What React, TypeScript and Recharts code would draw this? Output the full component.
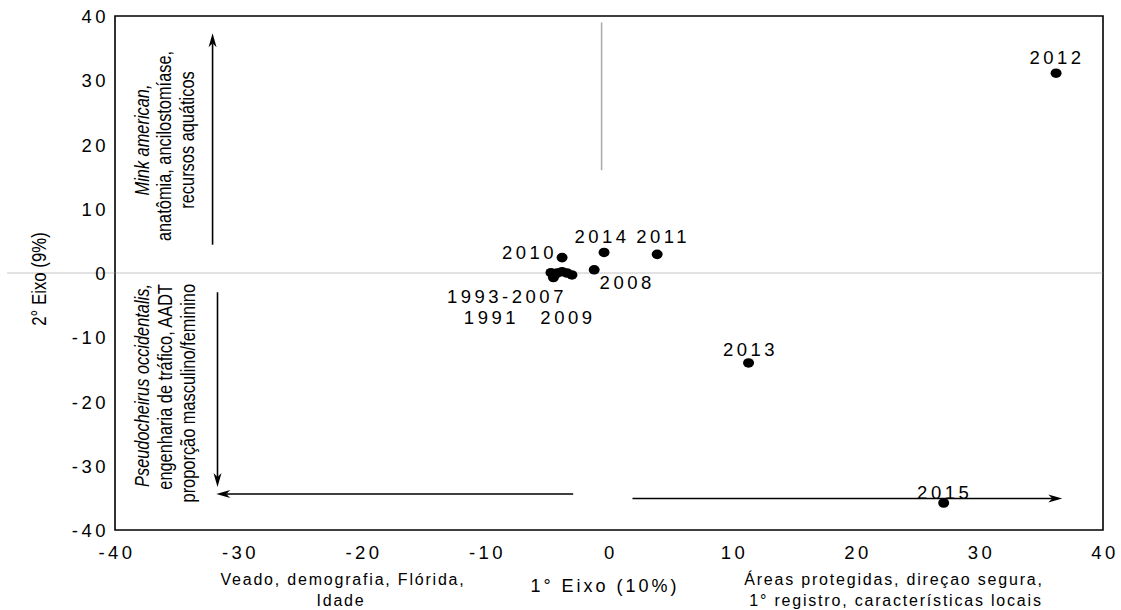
import React from 'react';
import { ScatterChart, Scatter, XAxis, YAxis, ReferenceLine, ReferenceArea } from 'recharts';

// scores on the two ordination axes, one entry per year (or year group)
const pointLabels = ['2012', '2013', '2015', '2011', '2014', '2010', '2008', '1993-2007', '1991', '', '', '', '2009'];
const axis1Scores = [36.2, 11.3, 27.1, 3.9, -0.4, -3.8, -1.2, -4.7, -4.5, -4.2, -3.8, -3.4, -3.0];
const axis2Scores = [31.1, -14.0, -35.8, 2.9, 3.2, 2.4, 0.5, 0.05, -0.7, 0.0, 0.2, 0.0, -0.3];

const xTicks = [-40, -30, -20, -10, 0, 10, 20, 30, 40];
const yTicks = [-40, -30, -20, -10, 0, 10, 20, 30, 40];

// direction arrows, in axis units
const arrowFrom = [[-32.1, 4.4], [-31.7, -3.0], [-2.9, -34.4], [1.9, -35.1]];
const arrowTo = [[-32.1, 37.3], [-31.7, -33.3], [-31.8, -34.4], [36.7, -35.1]];

const points = pointLabels.map((label, i) => ({ x: axis1Scores[i], y: axis2Scores[i], label }));

const NUM_FONT = '"Liberation Sans", Arial, sans-serif';

// label offset from its dot: dx, dy (baseline), anchor
const labelOffset: Record<string, [number, number, 'start' | 'middle' | 'end']> = {
  '2012': [1, -9, 'middle'],
  '2013': [2, -7, 'middle'],
  '2015': [1, -4, 'middle'],
  '2011': [6, -11, 'middle'],
  '2014': [-2, -9, 'middle'],
  '2010': [-5, 1, 'end'],
  '2008': [33, 19, 'middle'],
  '1993-2007': [-44, 30, 'middle'],
  '1991': [-62, 47, 'middle'],
  '2009': [-4, 49, 'middle'],
};

const YearDot = (props: any) => {
  const { cx, cy, payload } = props;
  const off = labelOffset[payload.label];
  return (
    <g>
      <ellipse cx={cx} cy={cy} rx={5.5} ry={4.8} fill="#000" />
      {off && (
        <text
          x={cx + off[0]}
          y={cy + off[1]}
          textAnchor={off[2]}
          fontFamily={NUM_FONT}
          fontSize={18.5}
          letterSpacing={3.5}
          fill="#000"
        >
          {payload.label}
        </text>
      )}
    </g>
  );
};

const Arrow = (p: any) => {
  const { x1, y1, x2, y2 } = p;
  const dx = x2 - x1;
  const dy = y2 - y1;
  const len = Math.hypot(dx, dy) || 1;
  const ux = dx / len;
  const uy = dy / len;
  const px = -uy;
  const py = ux;
  const L = 14;
  const W = 4;
  const N = 4;
  const bx = x2 - ux * L;
  const by = y2 - uy * L;
  const nx = x2 - ux * (L - N);
  const ny = y2 - uy * (L - N);
  return (
    <g>
      <line x1={x1} y1={y1} x2={nx} y2={ny} stroke="#000" strokeWidth={1.6} />
      <polygon
        points={`${x2},${y2} ${bx + px * W},${by + py * W} ${nx},${ny} ${bx - px * W},${by - py * W}`}
        fill="#000"
      />
    </g>
  );
};

const XTick = (props: any) => {
  const { x, y, payload } = props;
  return (
    <text x={x} y={y} dx={2} dy={21} textAnchor="middle" fontFamily={NUM_FONT} fontSize={18.5} letterSpacing={3.5} fill="#000">
      {payload.value}
    </text>
  );
};

const YTick = (props: any) => {
  const { x, y, payload } = props;
  return (
    <text x={x} y={y} dx={2} dy={7} textAnchor="end" fontFamily={NUM_FONT} fontSize={18.5} letterSpacing={3.5} fill="#000">
      {payload.value}
    </text>
  );
};

// rotated, horizontally condensed text (reads bottom to top)
const Narrow = ({ x, y, anchor, italic, children }: any) => (
  <text
    transform={`translate(${x}, ${y}) rotate(-90) scale(0.84, 1)`}
    x={0}
    y={0}
    textAnchor={anchor}
    dominantBaseline="central"
    fontStyle={italic ? 'italic' : 'normal'}
  >
    {children}
  </text>
);

export default function App() {
  return (
    <div style={{ position: 'absolute', left: 0, top: 0, width: 1121, height: 610, background: '#fff' }}>
      <ScatterChart width={1121} height={610} margin={{ top: 16, right: 18, bottom: 50, left: 0 }}>
        <XAxis
          type="number"
          dataKey="x"
          domain={[-40, 40]}
          ticks={xTicks}
          height={30}
          axisLine={false}
          tickLine={false}
          tick={<XTick />}
          allowDataOverflow
        />
        <YAxis
          type="number"
          dataKey="y"
          domain={[-40, 40]}
          ticks={yTicks}
          width={115}
          axisLine={false}
          tickLine={false}
          tick={<YTick />}
          allowDataOverflow
        />
        <ReferenceLine
          segment={[{ x: -48.7, y: 0 }, { x: 40, y: 0 }]}
          stroke="#8c8c8c"
          strokeWidth={1}
          strokeDasharray="1 1"
          ifOverflow="visible"
        />
        <ReferenceLine
          segment={[{ x: -0.6, y: 16.0 }, { x: -0.6, y: 39 }]}
          stroke="#a8a8a8"
          strokeWidth={1.5}
          ifOverflow="visible"
        />
        <ReferenceArea
          x1={-40}
          x2={40}
          y1={-40}
          y2={40}
          fill="none"
          fillOpacity={0}
          stroke="#000"
          strokeWidth={1.6}
          ifOverflow="visible"
        />
        {arrowFrom.map((f, i) => (
          <ReferenceLine
            key={`arrow-${i}`}
            segment={[{ x: f[0], y: f[1] }, { x: arrowTo[i][0], y: arrowTo[i][1] }]}
            shape={<Arrow />}
            ifOverflow="visible"
          />
        ))}
        <Scatter data={points} shape={<YearDot />} isAnimationActive={false} />
      </ScatterChart>

      <svg
        width={1121}
        height={610}
        style={{ position: 'absolute', left: 0, top: 0, pointerEvents: 'none' }}
      >
        <g fontFamily={NUM_FONT} fill="#000">
          <g fontSize={20}>
            <Narrow x={39} y={279} anchor="middle">2° Eixo (9%)</Narrow>
          </g>

          <g fontSize={19.5}>
            <Narrow x={143} y={140} anchor="middle" italic>Mink american,</Narrow>
            <Narrow x={165} y={146} anchor="middle">anatômia, ancilostomíase,</Narrow>
            <Narrow x={188} y={140} anchor="middle">recursos aquáticos</Narrow>

            <Narrow x={143} y={284} anchor="end" italic>Pseudocheirus occidentalis,</Narrow>
            <Narrow x={166} y={284} anchor="end">engenharia de tráfico, AADT</Narrow>
            <Narrow x={189} y={284} anchor="end">proporção masculino/feminino</Narrow>
          </g>
        </g>

        <g fontFamily={NUM_FONT} fontSize={16} letterSpacing={1.8} fill="#000" textAnchor="middle" dominantBaseline="central">
          <text x={343} y={579}>Veado, demografia, Flórida,</text>
          <text x={341} y={600}>Idade</text>
          <text x={605} y={586} fontSize={18} letterSpacing={3}>1° Eixo (10%)</text>
          <text x={894} y={579}>Áreas protegidas, direçao segura,</text>
          <text x={896} y={600}>1° registro, características locais</text>
        </g>
      </svg>
    </div>
  );
}
